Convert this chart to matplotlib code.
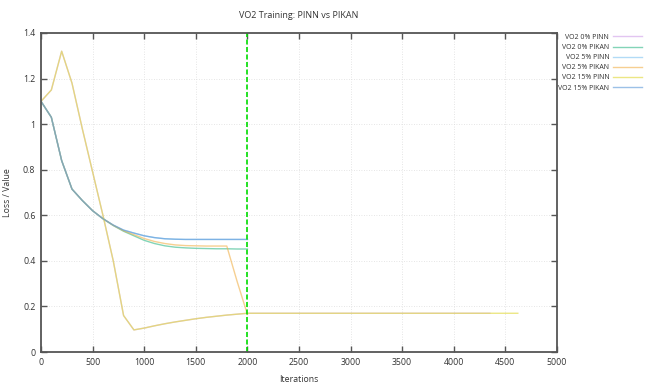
import numpy as np
from matplotlib import pyplot as plt
from matplotlib.ticker import FuncFormatter

# decay curves, sampled every 100 iterations
iters_decay = [0, 100, 200, 300, 400, 500, 600, 700, 800, 900, 1000,
               1100, 1200, 1300, 1400, 1500, 1600, 1700, 1800, 1900, 2000]
vo2_0_pikan = [1.10, 1.03, 0.84, 0.715, 0.665, 0.62, 0.585, 0.555, 0.53, 0.51, 0.49,
               0.476, 0.466, 0.460, 0.457, 0.455, 0.454, 0.453, 0.453, 0.452, 0.452]
vo2_5_pinn = [1.10, 1.03, 0.84, 0.715, 0.665, 0.62, 0.585, 0.557, 0.535, 0.522, 0.51,
              0.502, 0.497, 0.495, 0.494, 0.494, 0.494, 0.494, 0.494, 0.494, 0.494]
vo2_15_pikan = [1.10, 1.03, 0.84, 0.715, 0.665, 0.62, 0.585, 0.557, 0.535, 0.522, 0.51,
                0.502, 0.497, 0.495, 0.494, 0.494, 0.494, 0.494, 0.494, 0.494, 0.494]
vo2_5_pikan = [1.10, 1.03, 0.84, 0.715, 0.665, 0.62, 0.585, 0.556, 0.532, 0.515, 0.498,
               0.485, 0.476, 0.470, 0.467, 0.466, 0.465, 0.465, 0.465, 0.31, 0.165]

# spiking curves
iters_spike = [0, 100, 200, 300, 400, 500, 600, 700, 800, 900, 1000, 1100, 1200,
               1300, 1400, 1500, 1600, 1700, 1800, 1900, 2000, 2500, 3000, 3500, 4000]
vals_spike = [1.10, 1.15, 1.32, 1.18, 0.98, 0.79, 0.60, 0.40, 0.16, 0.097, 0.105, 0.115,
              0.124, 0.132, 0.139, 0.146, 0.152, 0.157, 0.162, 0.166, 0.17, 0.17, 0.17,
              0.17, 0.17]
iters_0_pinn = iters_spike + [4350]
vo2_0_pinn = vals_spike + [0.17]
iters_15_pinn = iters_spike + [4350, 4620]
vo2_15_pinn = vals_spike + [0.17, 0.17]

split_iter = 2000

plt.rcParams['font.family'] = ['Open Sans', 'DejaVu Sans']

fig = plt.figure(figsize=(6.45, 3.85), dpi=100)
ax = fig.add_axes([0.0636, 0.0857, 0.8, 0.8286])

lw = 1.0
ax.plot(iters_0_pinn, vo2_0_pinn, color='#c080e0', lw=lw, alpha=0.45, label='VO2 0% PINN')
ax.plot(iters_decay, vo2_0_pikan, color='#30b888', lw=lw, alpha=0.6, label='VO2 0% PIKAN')
ax.plot(iters_decay, vo2_5_pinn, color='#80c4f0', lw=lw, alpha=0.6, label='VO2 5% PINN')
ax.plot(iters_decay, vo2_5_pikan, color='#f0b048', lw=lw, alpha=0.6, label='VO2 5% PIKAN')
ax.plot(iters_15_pinn, vo2_15_pinn, color='#e4dc50', lw=lw, alpha=0.7, label='VO2 15% PINN')
ax.plot(iters_decay, vo2_15_pikan, color='#5a98d8', lw=lw, alpha=0.6, label='VO2 15% PIKAN')

ax.axvline(split_iter, color='#00dd00', lw=1.2, ls=(0, (3, 1.5)))

ax.set_xlim(0, 5000)
ax.set_ylim(0, 1.4)
ax.set_xticks(np.arange(0, 5001, 500))
ax.set_yticks(np.arange(0, 1.41, 0.2))
ax.yaxis.set_major_formatter(FuncFormatter(lambda v, p: '%g' % round(v, 2)))
ax.tick_params(direction='in', length=4, width=1, color='#555555', labelsize=6.3,
               top=True, right=True, labelcolor='#333333', pad=4)
for s in ax.spines.values():
    s.set_color('#555555')
    s.set_linewidth(1.3)
ax.grid(True, color='#dddddd', lw=0.6, ls=(0, (1, 2)))

ax.set_title('VO2 Training: PINN vs PIKAN', fontsize=6.5, color='#333333', pad=11)
ax.set_xlabel('Iterations', fontsize=6.3, color='#333333', labelpad=6)
ax.set_ylabel('Loss / Value', fontsize=6.3, color='#333333', labelpad=8)

ax.legend(loc='upper right', bbox_to_anchor=(0.995, 0.912), bbox_transform=fig.transFigure,
          frameon=False, fontsize=5.0, markerfirst=False, handlelength=4.2,
          handletextpad=0.5, labelspacing=0.45, borderaxespad=0, borderpad=0,
          labelcolor='#333333')

fig.savefig('out.png', dpi=100)
